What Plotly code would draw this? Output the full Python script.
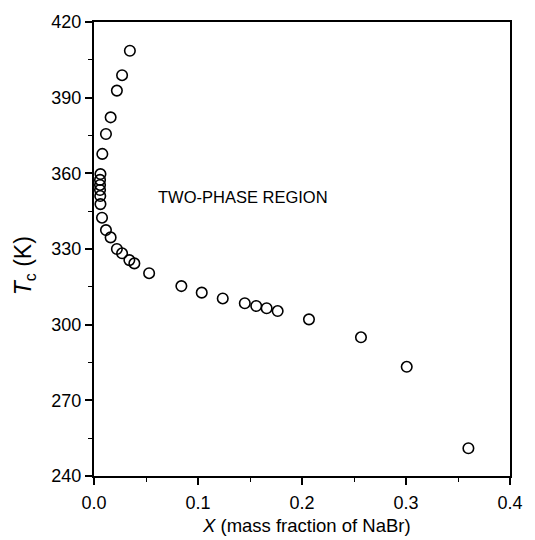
import plotly.graph_objects as go

# Mass fraction of NaBr (X) and critical temperature Tc (K)
x_vals = [0.0345, 0.027, 0.022, 0.016, 0.0115, 0.008, 0.0062,
          0.0058, 0.0058, 0.0058, 0.0060, 0.0062,
          0.0077, 0.0115, 0.016, 0.022, 0.027, 0.034, 0.0388,
          0.053, 0.084, 0.1036, 0.1238, 0.145, 0.156, 0.166, 0.1766,
          0.2067, 0.2567, 0.3007, 0.36]
tc_vals = [408.6, 398.9, 392.8, 382.2, 375.6, 367.7, 359.7,
           357.4, 355.4, 353.4, 351.0, 347.8,
           342.4, 337.5, 334.6, 330.0, 328.3, 325.6, 324.3,
           320.4, 315.3, 312.7, 310.4, 308.5, 307.4, 306.5, 305.4,
           302.1, 295.0, 283.3, 251.0]

x_ticks = [0.0, 0.1, 0.2, 0.3, 0.4]
x_tick_text = ["0.0", "0.1", "0.2", "0.3", "0.4"]
y_ticks = [240, 270, 300, 330, 360, 390, 420]

FONT = "Liberation Sans, Arial"

fig = go.Figure()
fig.add_trace(go.Scatter(
    x=x_vals, y=tc_vals, mode="markers",
    marker=dict(symbol="circle-open", size=10.5, color="black",
                line=dict(width=1.6, color="black")),
    showlegend=False, cliponaxis=False,
))

fig.add_annotation(x=0.0596, y=350.6, xref="x", yref="y",
                   text="TWO-PHASE REGION", showarrow=False,
                   xanchor="left", yanchor="middle",
                   font=dict(family=FONT, size=16.5, color="black"))

# axis titles
fig.add_annotation(x=-0.165, y=0.4626, xref="paper", yref="paper",
                   text="<i>T</i><sub>c</sub> (K)", showarrow=False, textangle=-90,
                   xanchor="center", yanchor="middle",
                   font=dict(family=FONT, size=23, color="black"))
fig.add_annotation(x=0.512, y=-0.11, xref="paper", yref="paper",
                   text="<i>X</i> (mass fraction of NaBr)", showarrow=False,
                   xanchor="center", yanchor="middle",
                   font=dict(family=FONT, size=18.5, color="black"))

axis_font = dict(family=FONT, size=18, color="black")
fig.update_xaxes(
    range=[0, 0.4], tickvals=x_ticks, ticktext=x_tick_text,
    ticks="outside", ticklen=7, tickwidth=1.5, tickcolor="black",
    ticklabelstandoff=2,
    minor=dict(dtick=0.05, ticks="outside", ticklen=4, tickwidth=1.2, tickcolor="black"),
    showline=True, linewidth=2, linecolor="black", mirror=True,
    showgrid=False, zeroline=False, tickfont=axis_font,
)
fig.update_yaxes(
    range=[240, 420], tickvals=y_ticks,
    ticks="outside", ticklen=7, tickwidth=1.5, tickcolor="black",
    minor=dict(dtick=15, ticks="outside", ticklen=4, tickwidth=1.2, tickcolor="black"),
    showline=True, linewidth=2, linecolor="black", mirror=True,
    showgrid=False, zeroline=False, tickfont=axis_font,
)
fig.update_layout(
    width=535, height=540,
    margin=dict(l=94, r=25, t=22, b=64),
    paper_bgcolor="white", plot_bgcolor="white",
)
fig.write_html("out.html")
